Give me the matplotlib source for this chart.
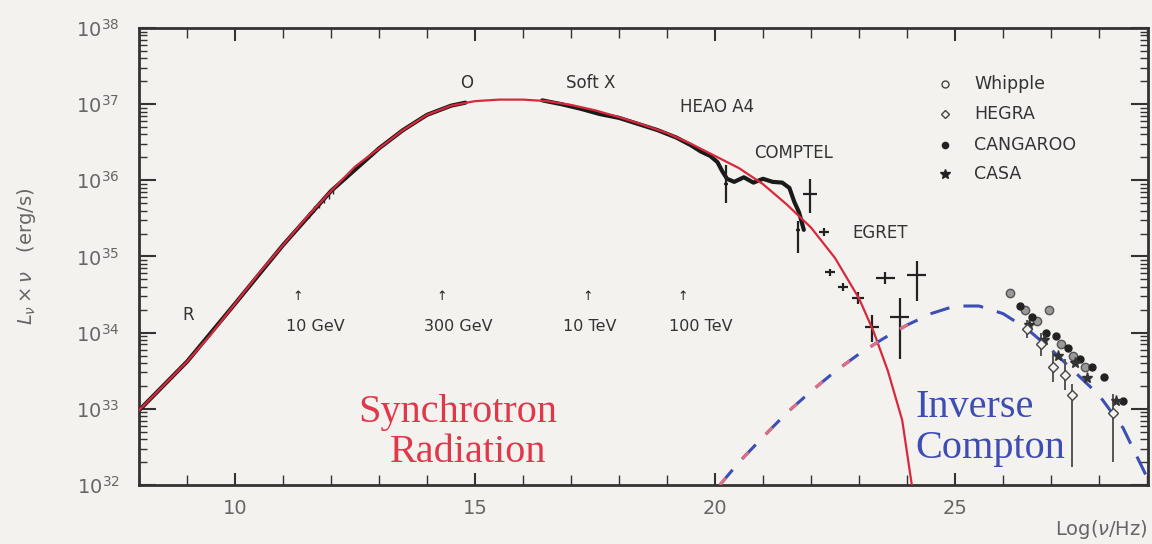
import matplotlib
matplotlib.use("Agg")
import matplotlib.pyplot as plt
import numpy as np
from matplotlib.ticker import LogLocator, MultipleLocator, NullFormatter

# synchrotron model (log10 nu, log10 L)
synch_x = [8.0, 8.5, 9.0, 9.5, 10.0, 10.5, 11.0, 11.5, 12.0, 12.5, 13.0, 13.5, 14.0,
           14.5, 15.0, 15.5, 16.0, 16.5, 17.0, 17.5, 18.0, 18.5, 19.0, 19.5, 20.0,
           20.5, 21.0, 21.5, 22.0, 22.5, 23.0, 23.3, 23.6, 23.9, 24.1]
synch_y = [32.98, 33.3, 33.62, 33.98, 34.38, 34.78, 35.15, 35.52, 35.86, 36.18, 36.42,
           36.66, 36.86, 36.98, 37.04, 37.06, 37.06, 37.04, 36.99, 36.92, 36.83, 36.73,
           36.62, 36.48, 36.32, 36.16, 35.95, 35.68, 35.38, 34.98, 34.45, 34.02, 33.5,
           32.85, 32.0]

# inverse compton model
ic_x = [20.1, 20.5, 21.0, 21.5, 22.0, 22.5, 23.0, 23.5, 24.0, 24.5, 25.0, 25.5, 26.0,
        26.5, 27.0, 27.5, 28.0, 28.5, 29.0]
ic_y = [32.0, 32.3, 32.63, 32.95, 33.23, 33.49, 33.72, 33.92, 34.1, 34.25, 34.35, 34.35,
        34.25, 34.05, 33.78, 33.48, 33.18, 32.75, 32.1]

# radio / optical / X-ray / COMPTEL measurements (dense band)
obs_x = [8.0, 9.0, 10.0, 11.0, 12.0, 13.0, 13.5, 14.0, 14.5, 14.8, np.nan,
         16.4, 16.8, 17.2, 17.6, 18.0, 18.4, 18.8, 19.2, 19.5, 19.7, 19.9, 20.05, 20.15,
         20.25, 20.4, 20.6, 20.8, 21.0, 21.2, 21.4, 21.55, 21.65, 21.75, 21.85]
obs_y = [32.98, 33.62, 34.38, 35.15, 35.86, 36.42, 36.66, 36.86, 36.98, 37.02, np.nan,
         37.05, 37.0, 36.94, 36.87, 36.82, 36.74, 36.66, 36.56, 36.46, 36.38, 36.32,
         36.24, 36.12, 36.02, 35.98, 36.04, 35.97, 36.02, 35.98, 35.97, 35.9, 35.72,
         35.58, 35.35]

# radio hash marks
hash_x = [11.55, 11.65, 11.75, 11.85, 11.95, 12.05]
hash_y = [35.55, 35.62, 35.68, 35.74, 35.8, 35.86]

# COMPTEL / EGRET crosses
gam_x = [20.23, 21.73, 21.98, 22.27, 22.4, 22.67, 22.98, 23.27, 23.55, 23.85, 24.2]
gam_y = [35.95, 35.35, 35.82, 35.32, 34.79, 34.6, 34.46, 34.08, 34.72, 34.2, 34.76]
gam_lo = [0.25, 0.3, 0.25, 0.05, 0.05, 0.05, 0.08, 0.2, 0.08, 0.55, 0.35]
gam_hi = [0.25, 0.12, 0.2, 0.05, 0.05, 0.05, 0.08, 0.15, 0.08, 0.25, 0.18]
gam_w = [0.05, 0.05, 0.15, 0.1, 0.1, 0.1, 0.12, 0.15, 0.2, 0.2, 0.2]

# TeV measurements
whipple_x = [26.15, 26.45, 26.7, 26.95, 27.2, 27.45, 27.7]
whipple_y = [34.52, 34.3, 34.15, 34.3, 33.85, 33.7, 33.55]
hegra_x = [26.5, 26.8, 27.05, 27.3, 27.44, 28.3]
hegra_y = [34.05, 33.85, 33.55, 33.45, 33.18, 32.95]
hegra_lo = [0.12, 0.15, 0.2, 0.2, 0.95, 0.65]
hegra_hi = [0.12, 0.15, 0.2, 0.2, 0.15, 0.25]
cangaroo_x = [26.35, 26.6, 26.9, 27.1, 27.35, 27.6, 27.85, 28.1, 28.5]
cangaroo_y = [34.35, 34.2, 34.0, 33.95, 33.8, 33.65, 33.55, 33.42, 33.1]
casa_x = [26.55, 26.85, 27.15, 27.5, 27.75, 28.35]
casa_y = [34.1, 33.9, 33.7, 33.6, 33.4, 33.1]

decades = [32, 33, 34, 35, 36, 37, 38]

ax_bg = "#f3f2ee"
fig = plt.figure(figsize=(11.52, 5.44), dpi=100, facecolor=ax_bg)
ax = fig.add_axes([0.1207, 0.1085, 0.8758, 0.84])
ax.set_facecolor(ax_bg)

p = lambda v: 10 ** np.asarray(v, dtype=float)

# data band under the model
ax.plot(obs_x, p(obs_y), color="#1a1a1a", lw=3.0, solid_capstyle="round", zorder=2)
ax.plot(hash_x, p(hash_y), ls="none", marker="|", ms=5, color="#222", zorder=2)

gy = np.array(gam_y)
ax.errorbar(gam_x, p(gy),
            yerr=[p(gy) - p(gy - np.array(gam_lo)), p(gy + np.array(gam_hi)) - p(gy)],
            xerr=gam_w, fmt="none", ecolor="#222", elinewidth=1.6, zorder=3)

# models
ax.plot(synch_x, p(synch_y), color="#d8283c", lw=1.6, zorder=4)
ax.plot(ic_x, p(ic_y), color="#3b4fb5", lw=2.2, ls=(0, (6.5, 4.7)), zorder=4)
ic_red = [i for i in range(len(ic_x)) if ic_x[i] <= 24.6]
ax.plot([ic_x[i] for i in ic_red], p([ic_y[i] for i in ic_red]), color="#e07080",
        lw=2.2, ls=(0, (3.0, 8.2)), zorder=5)

# TeV points
hy = np.array(hegra_y)
ax.errorbar(hegra_x, p(hy), yerr=[p(hy) - p(hy - np.array(hegra_lo)), p(hy + np.array(hegra_hi)) - p(hy)],
            fmt="D", ms=5, mfc=ax_bg, mec="#444", ecolor="#555", elinewidth=1.4, zorder=6)
ax.plot(whipple_x, p(whipple_y), "o", ms=6, mfc="#999", mec="#555", zorder=6)
ax.plot(cangaroo_x, p(cangaroo_y), "o", ms=5, color="#222", zorder=6)
ax.plot(casa_x, p(casa_y), "*", ms=8, color="#333", zorder=6)

# legend drawn in data space
leg_names = ["Whipple", "HEGRA", "CANGAROO", "CASA"]
leg_y = [37.26, 36.87, 36.47, 36.08]
leg_mk = [dict(marker="o", mfc="none", mec="#444", ms=5),
          dict(marker="D", mfc="none", mec="#444", ms=4),
          dict(marker="o", color="#222", ms=4.5),
          dict(marker="*", color="#222", ms=7)]
for name, ly, mk in zip(leg_names, leg_y, leg_mk):
    ax.plot([24.8], [10 ** ly], ls="none", **mk)
    ax.text(25.4, 10 ** ly, name, fontsize=12.5, color="#333", va="center", ha="left")

# annotations
lab = dict(fontsize=12, color="#333", ha="center", va="center")
ax.text(9.02, 10 ** 34.23, "R", **lab)
ax.text(14.83, 10 ** 37.28, "O", **lab)
ax.text(17.4, 10 ** 37.28, "Soft X", **lab)
ax.text(20.04, 10 ** 36.96, "HEAO A4", **lab)
ax.text(21.63, 10 ** 36.36, "COMPTEL", **lab)
ax.text(23.44, 10 ** 35.31, "EGRET", **lab)

arrow_x = [11.3, 14.31, 17.35, 19.33]
energy_x = [11.67, 14.65, 17.4, 19.7]
energy_lab = ["10 GeV", "300 GeV", "10 TeV", "100 TeV"]
for axx, ex, el in zip(arrow_x, energy_x, energy_lab):
    ax.text(axx, 10 ** 34.47, "\u2191", fontsize=9, color="#222", ha="center", va="center")
    ax.text(ex, 10 ** 34.08, el, fontsize=11.5, color="#333", ha="center", va="center")

serif = ["Liberation Serif", "DejaVu Serif"]
ax.text(14.65, 10 ** 32.95, "Synchrotron", family=serif, fontsize=29, color="#e0384a", ha="center", va="center")
ax.text(14.85, 10 ** 32.42, "Radiation", family=serif, fontsize=29, color="#e0384a", ha="center", va="center")
ax.text(24.17, 10 ** 33.02, "Inverse", family=serif, fontsize=29, color="#3d4db3", ha="left", va="center")
ax.text(24.17, 10 ** 32.48, "Compton", family=serif, fontsize=29, color="#3d4db3", ha="left", va="center")

# axes
ax.set_yscale("log")
ax.set_xlim(8, 29.02)
ax.set_ylim(1e32, 1e38)
ax.set_xticks([10, 15, 20, 25])
ax.xaxis.set_minor_locator(MultipleLocator(1))
ax.set_yticks(p(decades))
ax.set_yticklabels(["$10^{%d}$" % d for d in decades])
ax.yaxis.set_minor_locator(LogLocator(base=10, subs=np.arange(2, 10), numticks=20))
ax.yaxis.set_minor_formatter(NullFormatter())
ax.tick_params(which="both", direction="in", top=True, right=True, colors="#333",
               labelcolor="#666", labelsize=14)
ax.tick_params(which="major", length=12, width=1.5)
ax.tick_params(which="minor", length=6, width=1.0)
ax.tick_params(axis="y", which="major", pad=14)
ax.tick_params(axis="x", which="major", length=9, pad=10)
ax.tick_params(axis="x", which="minor", length=7)
for s in ax.spines.values():
    s.set_linewidth(2)
    s.set_color("#333")

ax.set_ylabel("$L_\\nu \\times \\nu$   (erg/s)", fontsize=14, color="#666")
ax.yaxis.set_label_coords(-0.1, 0.5)
ax.set_xlabel("Log($\\nu$/Hz)", fontsize=14, color="#666", ha="right")
ax.xaxis.set_label_coords(1.0, -0.072)

fig.savefig("out.png", dpi=100, facecolor=fig.get_facecolor())
